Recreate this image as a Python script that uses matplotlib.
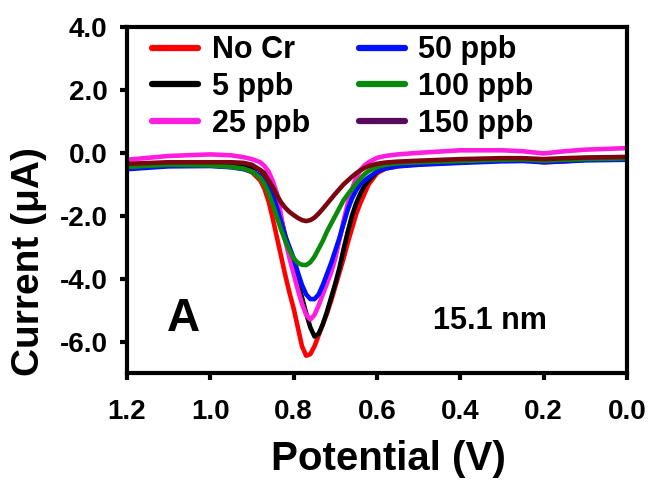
import matplotlib
matplotlib.use("Agg")
import matplotlib.pyplot as plt

plt.rcParams['font.family'] = ['Liberation Sans', 'DejaVu Sans']
plt.rcParams['font.weight'] = 'bold'

# Potential axis (V), shared by all scans
potential = [1.20, 1.10, 1.00, 0.95, 0.92, 0.90, 0.88, 0.87, 0.86, 0.85, 0.84,
             0.83, 0.82, 0.81, 0.80, 0.79, 0.78, 0.77, 0.76, 0.75, 0.74, 0.73,
             0.72, 0.71, 0.70, 0.69, 0.68, 0.67, 0.66, 0.65, 0.64, 0.63, 0.62,
             0.60, 0.58, 0.55, 0.50, 0.40, 0.30, 0.25, 0.20, 0.15, 0.10, 0.00]

# Current (uA) for each Cr concentration
i_no_cr = [-0.45, -0.38, -0.40, -0.44, -0.50, -0.62, -0.88, -1.15, -1.55, -2.10, -2.70,
           -3.30, -3.90, -4.45, -4.95, -5.55, -6.15, -6.45, -6.40, -6.15, -5.80, -5.45,
           -5.10, -4.70, -4.25, -3.80, -3.35, -2.85, -2.40, -1.95, -1.60, -1.30, -1.00,
           -0.65, -0.50, -0.42, -0.36, -0.30, -0.24, -0.22, -0.30, -0.27, -0.22, -0.18]
i_5ppb = [-0.40, -0.34, -0.33, -0.35, -0.38, -0.45, -0.55, -0.65, -0.85, -1.15, -1.60,
          -2.10, -2.65, -3.15, -3.60, -4.10, -4.60, -5.10, -5.55, -5.84, -5.75, -5.45,
          -5.05, -4.60, -4.15, -3.65, -3.05, -2.50, -2.00, -1.60, -1.30, -1.05, -0.88,
          -0.60, -0.45, -0.36, -0.32, -0.26, -0.20, -0.20, -0.24, -0.20, -0.17, -0.15]
i_25ppb = [-0.22, -0.10, -0.05, -0.08, -0.14, -0.20, -0.30, -0.42, -0.60, -0.90, -1.30,
           -2.00, -2.80, -3.35, -3.85, -4.35, -4.80, -5.15, -5.30, -5.15, -4.85, -4.50,
           -4.15, -3.80, -3.35, -2.75, -2.15, -1.60, -1.15, -0.80, -0.55, -0.40, -0.30,
           -0.16, -0.10, -0.05, 0.00, 0.08, 0.08, 0.05, -0.02, 0.05, 0.10, 0.15]
i_50ppb = [-0.52, -0.43, -0.42, -0.46, -0.52, -0.60, -0.72, -0.85, -1.05, -1.35, -1.75,
           -2.20, -2.65, -3.00, -3.35, -3.80, -4.20, -4.50, -4.65, -4.65, -4.50, -4.20,
           -3.85, -3.50, -3.10, -2.70, -2.25, -1.80, -1.45, -1.20, -1.00, -0.88, -0.78,
           -0.60, -0.50, -0.43, -0.38, -0.32, -0.27, -0.26, -0.30, -0.27, -0.24, -0.22]
i_100ppb = [-0.45, -0.38, -0.40, -0.45, -0.50, -0.60, -0.80, -1.00, -1.30, -1.65, -2.05,
            -2.45, -2.80, -3.10, -3.35, -3.50, -3.56, -3.57, -3.48, -3.30, -3.05, -2.80,
            -2.50, -2.25, -2.00, -1.75, -1.50, -1.32, -1.15, -0.98, -0.82, -0.68, -0.58,
            -0.45, -0.38, -0.33, -0.30, -0.26, -0.22, -0.21, -0.25, -0.22, -0.20, -0.18]
i_150ppb = [-0.35, -0.30, -0.30, -0.30, -0.32, -0.38, -0.55, -0.70, -0.88, -1.10, -1.35,
            -1.58, -1.75, -1.88, -1.98, -2.07, -2.14, -2.17, -2.14, -2.06, -1.93, -1.78,
            -1.62, -1.46, -1.30, -1.15, -1.00, -0.88, -0.76, -0.65, -0.56, -0.48, -0.42,
            -0.35, -0.31, -0.28, -0.25, -0.20, -0.17, -0.17, -0.20, -0.17, -0.15, -0.13]

labels = ["No Cr", "5 ppb", "25 ppb", "50 ppb", "100 ppb", "150 ppb"]
series = [i_no_cr, i_5ppb, i_25ppb, i_50ppb, i_100ppb, i_150ppb]
colors = ["#ff0000", "#000000", "#ff1ee0", "#0010ff", "#0a8a0a", "#7a0610"]

x_ticks = [1.2, 1.0, 0.8, 0.6, 0.4, 0.2, 0.0]
y_ticks = [4.0, 2.0, 0.0, -2.0, -4.0, -6.0]

fig = plt.figure(figsize=(6.5, 4.83), dpi=100)
ax = fig.add_axes([127 / 650, 1 - 373 / 483, 500 / 650, 346 / 483])

lines = []
for lab, ys, c in zip(labels, series, colors):
    ln, = ax.plot(potential, ys, color=c, lw=3.3, label=lab, solid_capstyle='round')
    lines.append(ln)

ax.set_xlim(1.2, 0.0)
ax.set_ylim(-7.0, 4.0)
ax.set_xticks(x_ticks)
ax.set_xticklabels([f"{t:.1f}" for t in x_ticks])
ax.set_yticks(y_ticks)
ax.set_yticklabels([f"{t:.1f}" for t in y_ticks])

for s in ax.spines.values():
    s.set_linewidth(3.0)
ax.tick_params(axis='both', direction='out', length=5, width=3, labelsize=20)
ax.tick_params(axis='x', pad=14)
ax.tick_params(axis='y', pad=9)
for t in ax.get_xticklabels() + ax.get_yticklabels():
    t.set_fontweight('bold')

leg = ax.legend(handles=lines, ncol=2, loc='upper left', frameon=False,
                bbox_to_anchor=(-0.005, 1.055), handlelength=1.5,
                handletextpad=0.45, columnspacing=1.6, labelspacing=0.22,
                prop={'weight': 'bold', 'size': 22})
for hl in leg.get_lines():
    hl.set_linewidth(4.5)
leg.get_lines()[5].set_color('#5a0a5e')

ax.text(0.08, 0.155, "A", transform=ax.transAxes, fontsize=33,
        fontweight='bold', ha='left', va='center')
ax.text(0.725, 0.15, "15.1 nm", transform=ax.transAxes, fontsize=22,
        fontweight='bold', ha='center', va='center')

fig.text(388 / 650, 1 - 459 / 483, "Potential (V)", fontsize=29,
         fontweight='bold', ha='center', va='center')
fig.text(29 / 650, 1 - 262 / 483, "Current (\u03bcA)", fontsize=28,
         fontweight='bold', ha='center', va='center', rotation=90)

fig.savefig("out.png", dpi=100)
